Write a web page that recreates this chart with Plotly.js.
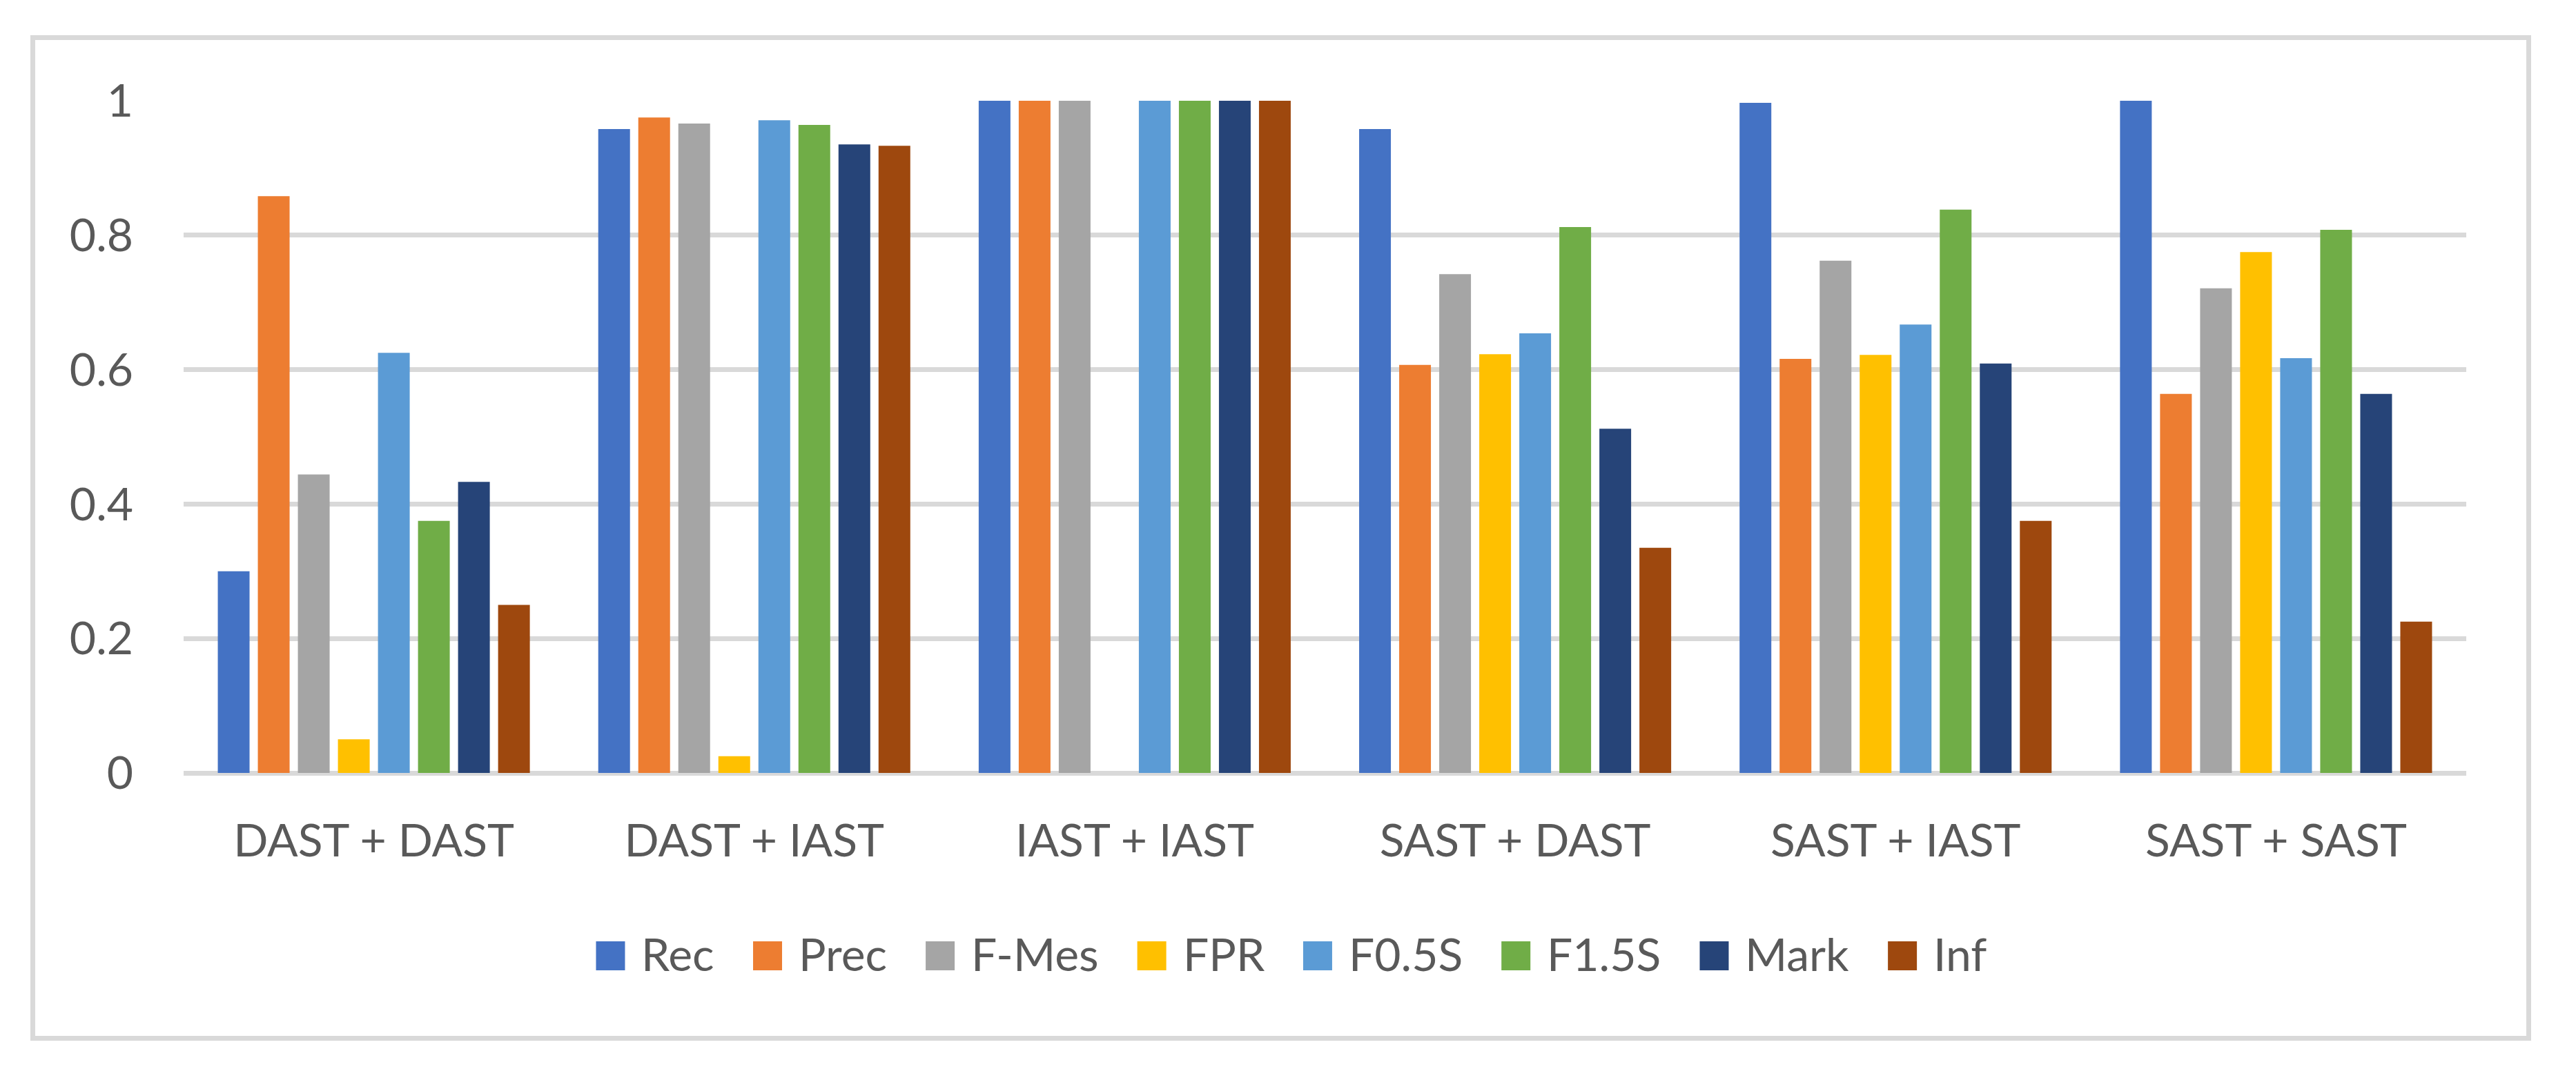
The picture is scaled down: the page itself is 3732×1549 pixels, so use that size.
<!DOCTYPE html>
<html>
<head>
<meta charset="utf-8">
<script src="https://cdn.plot.ly/plotly-3.0.1.min.js"></script>
<style>
  html, body { margin: 0; padding: 0; background: #ffffff; }
  #chart { width: 3732px; height: 1549px; }
</style>
</head>
<body>
<div id="chart"></div>
<script>
// ---- Data ----
const categories = ["DAST + DAST", "DAST + IAST", "IAST + IAST", "SAST + DAST", "SAST + IAST", "SAST + SAST"];
const seriesNames = ["Rec", "Prec", "F-Mes", "FPR", "F0.5S", "F1.5S", "Mark", "Inf"];
const rec   = [0.300, 0.958, 1.000, 0.958, 0.997, 1.000];
const prec  = [0.858, 0.975, 1.000, 0.607, 0.616, 0.564];
const fmes  = [0.444, 0.966, 1.000, 0.742, 0.762, 0.721];
const fpr   = [0.050, 0.025, 0.000, 0.623, 0.622, 0.775];
const f05s  = [0.625, 0.971, 1.000, 0.654, 0.667, 0.617];
const f15s  = [0.375, 0.964, 1.000, 0.812, 0.838, 0.808];
const mark  = [0.433, 0.935, 1.000, 0.512, 0.609, 0.564];
const inf   = [0.250, 0.933, 1.000, 0.335, 0.375, 0.225];
const yTickVals = [0, 0.2, 0.4, 0.6, 0.8, 1];
const yTickText = ["0", "0.2", "0.4", "0.6", "0.8", "1"];

// ---- Styles ----
const seriesValues = [rec, prec, fmes, fpr, f05s, f15s, mark, inf];
const colors = ["#4472C4", "#ED7D31", "#A5A5A5", "#FFC000", "#5B9BD5", "#70AD47", "#264478", "#9E480E"];
const textColor = "#595959";
const gridColor = "#D9D9D9";
const fontFamily = "Lato, 'Open Sans', sans-serif";
const fontSize = 66;

const W = 3732, H = 1549;
const mL = 266, mR = W - 3573, mT = 146, mB = H - 1120;
const plotW = W - mL - mR, plotH = H - mT - mB;
const pxToPaperX = px => (px - mL) / plotW;
const pxToPaperY = py => (H - mB - py) / plotH;

const traces = seriesNames.map((name, i) => ({
  type: "bar",
  name: name,
  x: categories,
  y: seriesValues[i],
  marker: { color: colors[i], line: { width: 0 } },
  showlegend: false,
  hoverinfo: "x+y+name"
}));

// ---- Custom legend (large square swatches like the original) ----
const canvas = document.createElement("canvas");
const ctx = canvas.getContext("2d");
ctx.font = fontSize + "px Lato";
const swatch = 42, swatchGap = 22, itemGap = 58;
const widths = seriesNames.map(n => ctx.measureText(n).width);
let total = 0;
widths.forEach((w, i) => { total += swatch + swatchGap + w + (i < widths.length - 1 ? itemGap : 0); });
const legendCenterX = 1870;
let cx = legendCenterX - total / 2;
const swTop = 1364, swBot = 1406;
const shapes = [];
const annotations = [];
seriesNames.forEach((name, i) => {
  shapes.push({
    type: "rect", xref: "paper", yref: "paper",
    x0: pxToPaperX(cx), x1: pxToPaperX(cx + swatch),
    y0: pxToPaperY(swBot), y1: pxToPaperY(swTop),
    fillcolor: colors[i], line: { width: 0 }
  });
  annotations.push({
    xref: "paper", yref: "paper",
    x: pxToPaperX(cx + swatch + swatchGap), y: pxToPaperY((swTop + swBot) / 2 - 4),
    xanchor: "left", yanchor: "middle",
    text: name, showarrow: false,
    font: { family: fontFamily, size: fontSize, color: textColor }
  });
  cx += swatch + swatchGap + widths[i] + itemGap;
});

// Outer chart border
shapes.push({
  type: "rect", xref: "paper", yref: "paper",
  x0: pxToPaperX(47.5), x1: pxToPaperX(3663.5),
  y0: pxToPaperY(1504.5), y1: pxToPaperY(54.5),
  line: { color: gridColor, width: 7 }, fillcolor: "rgba(0,0,0,0)", layer: "below"
});

const layout = {
  width: W, height: H,
  margin: { l: mL, r: mR, t: mT, b: mB, pad: 0 },
  paper_bgcolor: "#ffffff",
  plot_bgcolor: "#ffffff",
  barmode: "group",
  bargap: 0.158,
  bargroupgap: 0.207,
  showlegend: false,
  font: { family: fontFamily, size: fontSize, color: textColor },
  xaxis: {
    type: "category",
    showgrid: false,
    showline: false,
    zeroline: false,
    ticks: "",
    ticklabelstandoff: 54,
    tickfont: { family: fontFamily, size: fontSize, color: textColor },
    fixedrange: true
  },
  yaxis: {
    range: [0, 1],
    tickvals: yTickVals,
    ticktext: yTickText,
    showgrid: true,
    gridcolor: gridColor,
    gridwidth: 7,
    zeroline: true,
    zerolinecolor: gridColor,
    zerolinewidth: 7,
    showline: false,
    ticks: "",
    ticklabelstandoff: 72,
    tickfont: { family: fontFamily, size: fontSize, color: textColor },
    fixedrange: true
  },
  shapes: shapes,
  annotations: annotations
};

Plotly.newPlot("chart", traces, layout, { displayModeBar: false, staticPlot: true });
</script>
</body>
</html>
